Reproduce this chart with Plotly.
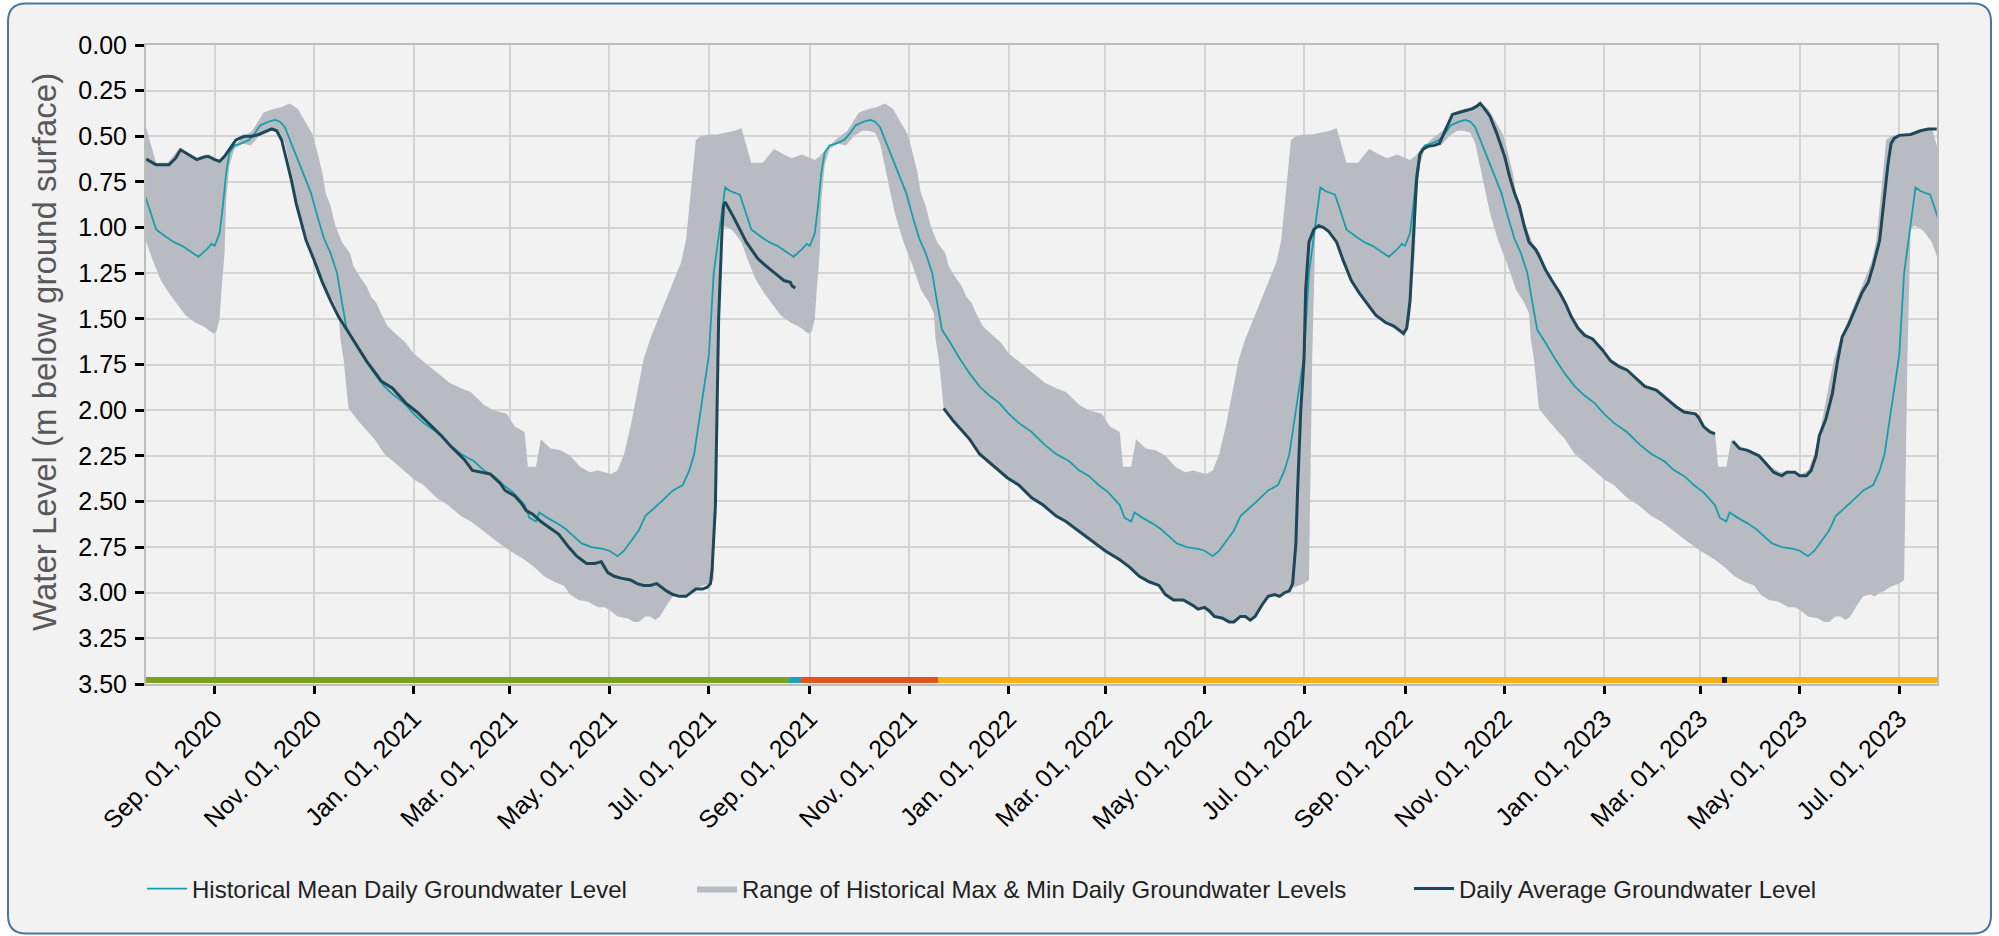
import plotly.graph_objects as go
import pandas as pd

# ---------------- data ----------------
# Historical mean daily level (annual profile, month-day -> m below ground)
mean_md = ["01-01","01-07","01-15","01-23","01-30","02-07","02-13","02-19","02-25","03-03","03-07","03-10",
           "03-13","03-17","03-19","03-24","03-30","04-04","04-09","04-14","04-20","04-27","05-01","05-06",
           "05-10","05-14","05-19","05-23","05-27","06-02","06-09","06-15","06-19","06-22","06-24","06-27",
           "07-01","07-04","07-08","07-11","07-14","07-17","07-20","07-23","07-27","08-02","08-07","08-12",
           "08-17","08-22","08-27","08-30","09-01","09-04","09-06","09-08","09-10","09-13","09-17","09-22",
           "09-25","09-29","10-04","10-08","10-11","10-14","10-18","10-22","10-26","10-30","11-03","11-07",
           "11-11","11-15","11-18","11-21","11-26","12-02","12-08","12-14","12-20","12-26"]
mean_val = [2.02,2.07,2.12,2.19,2.24,2.28,2.33,2.36,2.41,2.45,2.49,2.52,
            2.59,2.61,2.56,2.59,2.62,2.65,2.69,2.73,2.75,2.76,2.77,2.80,
            2.77,2.72,2.66,2.58,2.55,2.50,2.44,2.41,2.33,2.24,2.12,1.95,
            1.70,1.25,0.99,0.78,0.80,0.81,0.82,0.90,1.01,1.05,1.08,1.10,
            1.13,1.16,1.12,1.09,1.10,1.03,0.88,0.70,0.59,0.55,0.54,0.52,
            0.49,0.44,0.42,0.41,0.42,0.45,0.54,0.63,0.71,0.81,0.94,1.06,
            1.14,1.25,1.41,1.56,1.63,1.72,1.80,1.87,1.92,1.96]

# Historical range: shallowest level (top of band)
top_md = ["01-01","01-05","01-15","01-23","01-30","02-05","02-13","02-19","02-27","03-04","03-10","03-12",
          "03-17","03-20","03-26","04-01","04-07","04-13","04-19","04-24","04-28","05-02","05-06","05-10",
          "05-14","05-18","05-22","05-26","05-30","06-03","06-09","06-14","06-17","06-19","06-21","06-23",
          "06-26","07-01","07-06","07-12","07-17","07-21","07-27","08-03","08-10","08-16","08-21","08-27",
          "09-04","09-07","09-12","09-18","09-24","10-01","10-07","10-12","10-17","10-22","10-26","10-31",
          "11-03","11-06","11-08","11-11","11-14","11-18","11-23","11-25","11-29","12-03","12-06","12-09",
          "12-12","12-16","12-22","12-27"]
top_val = [1.69,1.72,1.79,1.85,1.88,1.90,1.97,2.00,2.02,2.09,2.12,2.31,
           2.31,2.16,2.21,2.22,2.25,2.31,2.34,2.33,2.34,2.35,2.33,2.24,
           2.09,1.91,1.72,1.61,1.52,1.43,1.30,1.19,1.07,0.88,0.70,0.52,
           0.50,0.49,0.49,0.48,0.47,0.455,0.645,0.645,0.57,0.60,0.62,0.60,
           0.63,0.61,0.56,0.51,0.47,0.37,0.35,0.34,0.32,0.35,0.41,0.49,
           0.59,0.70,0.81,0.88,0.99,1.08,1.14,1.21,1.27,1.32,1.38,1.41,
           1.47,1.54,1.59,1.63]

# Historical range: deepest level (bottom of band)
bot_md = ["01-01","01-07","01-15","01-22","01-30","02-05","02-11","02-21","03-01","03-10","03-16","03-22",
          "03-28","04-03","04-07","04-12","04-18","04-24","04-28","05-02","05-06","05-12","05-16","05-19",
          "05-23","05-26","05-29","06-01","06-05","06-09","06-13","06-16","06-19","06-22","06-25","07-01",
          "07-04","07-06","07-08","07-10","07-13","07-16","07-21","07-25","07-30","08-04","08-09","08-14",
          "08-20","08-25","08-31","09-02","09-04","09-05","09-07","09-08","09-10","09-13","09-18","09-23",
          "09-28","10-03","10-07","10-11","10-14","10-18","10-23","10-28","11-03","11-08","11-13","11-16",
          "11-17","11-19","11-21","11-22","11-28","12-04","12-08","12-14","12-22","12-31"]
bot_val = [2.38,2.41,2.48,2.52,2.58,2.61,2.65,2.72,2.77,2.82,2.86,2.91,
           2.94,2.96,3.01,3.04,3.05,3.08,3.08,3.10,3.13,3.14,3.16,3.16,
           3.13,3.13,3.15,3.13,3.07,3.02,3.01,3.02,3.00,2.99,2.97,2.95,
           2.93,1.72,1.01,0.99,1.00,1.02,1.08,1.18,1.29,1.36,1.42,1.48,
           1.52,1.54,1.58,1.57,1.50,1.36,1.14,0.85,0.66,0.57,0.54,0.55,
           0.50,0.47,0.47,0.48,0.54,0.70,0.92,1.07,1.21,1.34,1.41,1.47,
           1.61,1.72,1.91,1.99,2.06,2.12,2.16,2.24,2.30,2.37]

profile_years = [2020, 2021, 2022, 2023]

# Daily average groundwater level (None = no data)
daily_dates = [
    "2020-07-21","2020-07-24","2020-07-27","2020-08-04","2020-08-08","2020-08-11","2020-08-16","2020-08-21",
    "2020-08-25","2020-08-28","2020-09-01","2020-09-04","2020-09-07","2020-09-10","2020-09-14","2020-09-19",
    "2020-09-24","2020-09-28","2020-10-03","2020-10-06","2020-10-09","2020-10-12","2020-10-15","2020-10-18",
    "2020-10-21","2020-10-24","2020-10-27","2020-11-01","2020-11-06","2020-11-11","2020-11-16","2020-11-21",
    "2020-11-26","2020-11-30","2020-12-03","2020-12-08","2020-12-12","2020-12-19","2020-12-27","2021-01-03",
    "2021-01-10","2021-01-18","2021-01-24","2021-02-01","2021-02-06","2021-02-12","2021-02-17","2021-02-23",
    "2021-02-26","2021-03-04","2021-03-08","2021-03-11","2021-03-15","2021-03-20","2021-03-26","2021-03-31",
    "2021-04-06","2021-04-11","2021-04-17","2021-04-22","2021-04-26","2021-04-30","2021-05-04","2021-05-08",
    "2021-05-14","2021-05-18","2021-05-22","2021-05-26","2021-05-30","2021-06-05","2021-06-09","2021-06-13",
    "2021-06-17","2021-06-20","2021-06-23","2021-06-27","2021-06-30","2021-07-02","2021-07-03","2021-07-05",
    "2021-07-06","2021-07-07","2021-07-09","2021-07-10","2021-07-11","2021-07-13","2021-07-16","2021-07-20",
    "2021-07-24","2021-07-31","2021-08-05","2021-08-12","2021-08-16","2021-08-20","2021-08-21","2021-08-23",
    "2021-10-01",
    "2021-11-22","2021-11-28","2021-12-04","2021-12-08","2021-12-14","2021-12-22","2021-12-31","2022-01-07",
    "2022-01-15","2022-01-22","2022-01-30","2022-02-05","2022-02-11","2022-02-21","2022-03-01","2022-03-10",
    "2022-03-16","2022-03-22","2022-03-28","2022-04-03","2022-04-07","2022-04-12","2022-04-18","2022-04-24",
    "2022-04-27","2022-05-01","2022-05-04","2022-05-07","2022-05-12","2022-05-16","2022-05-19","2022-05-23",
    "2022-05-26","2022-05-29","2022-06-01","2022-06-05","2022-06-09","2022-06-13","2022-06-16","2022-06-19",
    "2022-06-22","2022-06-24","2022-06-26","2022-06-27","2022-06-29","2022-07-01","2022-07-02","2022-07-04",
    "2022-07-07","2022-07-10","2022-07-13","2022-07-16","2022-07-21","2022-07-25","2022-07-30","2022-08-04",
    "2022-08-09","2022-08-14","2022-08-20","2022-08-25","2022-08-28","2022-08-31","2022-09-02","2022-09-04",
    "2022-09-06","2022-09-08","2022-09-10","2022-09-12","2022-09-15","2022-09-19","2022-09-22","2022-09-24",
    "2022-09-27","2022-09-30","2022-10-04","2022-10-08","2022-10-12","2022-10-15","2022-10-17","2022-10-19",
    "2022-10-23","2022-10-27","2022-11-01","2022-11-04","2022-11-07","2022-11-10","2022-11-13","2022-11-16",
    "2022-11-20","2022-11-23","2022-11-26","2022-11-30","2022-12-05","2022-12-08","2022-12-12","2022-12-16",
    "2022-12-20","2022-12-25","2022-12-31","2023-01-05","2023-01-10","2023-01-15","2023-01-20","2023-01-26",
    "2023-02-02","2023-02-06","2023-02-10","2023-02-14","2023-02-19","2023-02-26","2023-02-28","2023-03-03",
    "2023-03-07","2023-03-10",
    "2023-03-15",
    "2023-03-21","2023-03-25","2023-03-30","2023-04-06","2023-04-10","2023-04-15","2023-04-20","2023-04-23",
    "2023-04-28","2023-05-01","2023-05-05","2023-05-08","2023-05-11","2023-05-13","2023-05-17","2023-05-21",
    "2023-05-24","2023-05-27","2023-05-31","2023-06-05","2023-06-08","2023-06-12","2023-06-15","2023-06-19",
    "2023-06-22","2023-06-24","2023-06-26","2023-06-28","2023-07-01","2023-07-08","2023-07-14","2023-07-19",
    "2023-07-24"]
daily_val = [
    0.625,0.64,0.656,0.656,0.62,0.574,0.60,0.628,
    0.615,0.61,0.628,0.637,0.61,0.57,0.52,0.50,
    0.50,0.49,0.47,0.46,0.47,0.52,0.63,0.74,
    0.87,0.97,1.07,1.18,1.30,1.40,1.49,1.56,
    1.63,1.69,1.73,1.79,1.84,1.88,1.96,2.01,
    2.07,2.14,2.20,2.27,2.33,2.34,2.35,2.40,
    2.44,2.47,2.51,2.55,2.57,2.61,2.65,2.68,
    2.75,2.80,2.84,2.84,2.83,2.89,2.91,2.92,
    2.93,2.95,2.96,2.96,2.95,2.99,3.01,3.02,
    3.02,3.00,2.98,2.98,2.97,2.95,2.87,2.53,
    1.98,1.50,1.03,0.88,0.86,0.89,0.94,1.01,
    1.08,1.17,1.21,1.26,1.29,1.30,1.32,1.33,
    None,
    1.99,2.06,2.12,2.16,2.24,2.30,2.37,2.41,
    2.48,2.52,2.58,2.61,2.65,2.72,2.77,2.82,
    2.86,2.91,2.94,2.96,3.01,3.04,3.04,3.07,
    3.09,3.08,3.10,3.13,3.14,3.16,3.16,3.13,
    3.13,3.15,3.13,3.07,3.02,3.01,3.02,3.00,
    2.99,2.95,2.73,2.45,2.00,1.72,1.34,1.08,
    1.01,0.99,1.00,1.02,1.08,1.18,1.29,1.36,
    1.42,1.48,1.52,1.54,1.56,1.58,1.55,1.40,
    1.07,0.74,0.60,0.57,0.555,0.55,0.54,0.50,
    0.43,0.38,0.37,0.36,0.35,0.335,0.32,0.34,
    0.39,0.48,0.61,0.72,0.81,0.88,0.99,1.08,
    1.12,1.17,1.23,1.29,1.36,1.41,1.49,1.55,
    1.59,1.61,1.67,1.73,1.76,1.78,1.82,1.87,
    1.89,1.92,1.95,1.98,2.01,2.02,2.04,2.09,
    2.12,2.13,
    None,
    2.17,2.21,2.22,2.25,2.29,2.34,2.36,2.34,
    2.34,2.36,2.36,2.33,2.25,2.14,2.05,1.91,
    1.74,1.60,1.53,1.42,1.36,1.30,1.21,1.07,
    0.83,0.66,0.54,0.51,0.495,0.49,0.47,0.46,
    0.46]

# Data-grade strip along the bottom (runs of days)
grade_start = ["2020-07-21", "2021-08-20", "2021-08-27", "2021-11-19", "2023-03-15", "2023-03-18"]
grade_end = ["2021-08-19", "2021-08-26", "2021-11-18", "2023-03-14", "2023-03-17", "2023-07-24"]
grade_color = ["#7ca31d", "#1fa3bd", "#e2541f", "#f3b116", "#151515", "#f3b116"]

y_ticks = [0.00, 0.25, 0.50, 0.75, 1.00, 1.25, 1.50, 1.75, 2.00, 2.25, 2.50, 2.75, 3.00, 3.25, 3.50]
y_title = "Water Level (m below ground surface)"

# ---------------- build ----------------
def expand(md_list, vals):
    xs, ys = [], []
    for yr in profile_years:
        for md, v in zip(md_list, vals):
            xs.append(f"{yr}-{md}")
            ys.append(v)
    return xs, ys

mean_x, mean_y = expand(mean_md, mean_val)
top_x, top_y = expand(top_md, top_val)
bot_x, bot_y = expand(bot_md, bot_val)

strip_x, strip_c = [], []
for s, e, c in zip(grade_start, grade_end, grade_color):
    for d in pd.date_range(s, e, freq="D"):
        strip_x.append(d.strftime("%Y-%m-%d"))
        strip_c.append(c)

FONT = "Liberation Sans, Arial, Helvetica, sans-serif"
C_MEAN = "#189eab"
C_DAILY = "#1e4757"
C_BAND = "#b8bcc2"

# plot area geometry (px)
ML, MR, MT, MB = 146, 62, 45, 252
W, H = 1999, 936
PW, PH = W - ML - MR, H - MT - MB

def px(xp):
    return (xp - ML) / PW

def py(yp):
    return (H - MB - yp) / PH

fig = go.Figure()

fig.add_trace(go.Scatter(
    x=top_x + bot_x[::-1], y=top_y + bot_y[::-1],
    fill="toself", fillcolor=C_BAND, line=dict(width=0, color=C_BAND),
    mode="lines", name="Range of Historical Max & Min Daily Groundwater Levels",
    legend="legend2", hoverinfo="skip"))

fig.add_trace(go.Scatter(
    x=mean_x, y=mean_y, mode="lines", line=dict(color=C_MEAN, width=1.8),
    name="Historical Mean Daily Groundwater Level", legend="legend"))

fig.add_trace(go.Scatter(
    x=daily_dates, y=daily_val, mode="lines", connectgaps=False,
    line=dict(color=C_DAILY, width=3),
    name="Daily Average Groundwater Level", legend="legend3"))

fig.add_trace(go.Bar(
    x=strip_x, y=[0.032] * len(strip_x), base=3.46,
    marker=dict(color=strip_c, line=dict(width=0)),
    width=86400000 * 0.8, showlegend=False, hoverinfo="skip"))

x0, x1, y0, y1, r = 8, 1991, 3.5, 933.5, 18
path = (f"M {px(x0 + r)} {py(y0)} L {px(x1 - r)} {py(y0)} Q {px(x1)} {py(y0)} {px(x1)} {py(y0 + r)} "
        f"L {px(x1)} {py(y1 - r)} Q {px(x1)} {py(y1)} {px(x1 - r)} {py(y1)} "
        f"L {px(x0 + r)} {py(y1)} Q {px(x0)} {py(y1)} {px(x0)} {py(y1 - r)} "
        f"L {px(x0)} {py(y0 + r)} Q {px(x0)} {py(y0)} {px(x0 + r)} {py(y0)} Z")

fig.add_shape(type="path", path=path, xref="paper", yref="paper",
              fillcolor="#f2f2f2", line=dict(color="#4a76a2", width=2), layer="below")

fig.add_annotation(text=y_title, xref="paper", yref="paper", x=px(44), y=py(352),
                   textangle=-90, showarrow=False, xanchor="center", yanchor="middle",
                   font=dict(size=33, color="#595959", family=FONT))

leg_common = dict(orientation="h", yanchor="middle", xanchor="left", y=py(889),
                  font=dict(size=24, color="#222", family=FONT), bgcolor="rgba(0,0,0,0)",
                  itemwidth=40)

fig.update_layout(
    width=W, height=H,
    margin=dict(l=ML, r=MR, t=MT, b=MB, pad=0),
    paper_bgcolor="white", plot_bgcolor="rgba(0,0,0,0)",
    font=dict(family=FONT, color="#000"),
    showlegend=True,
    legend=dict(x=px(142), **leg_common),
    legend2=dict(x=px(692), **leg_common),
    legend3=dict(x=px(1409), **leg_common),
    bargap=0,
)

fig.update_xaxes(
    type="date", range=["2020-07-20 20:00", "2023-07-24 04:00"],
    tick0="2020-09-01", dtick="M2", tickformat="%b. %d, %Y", tickangle=-45,
    ticks="outside", ticklen=8, tickwidth=2.5, tickcolor="#000",
    tickfont=dict(size=25, color="#000", family=FONT),
    showgrid=True, gridcolor="#d4d4d4", gridwidth=2,
    showline=True, linecolor="#bdbdbd", linewidth=2, mirror=True,
    zeroline=False,
)

fig.update_yaxes(
    range=[3.5, 0], tickvals=y_ticks, tickformat=".2f",
    ticks="outside", ticklen=9, tickwidth=2.5, tickcolor="#000",
    tickfont=dict(size=25, color="#000", family=FONT), ticklabelstandoff=3,
    showgrid=True, gridcolor="#d4d4d4", gridwidth=2,
    showline=True, linecolor="#bdbdbd", linewidth=2, mirror=True,
    zeroline=False,
)

fig.write_html("out.html", config={"displayModeBar": False},
               post_script="document.body.style.margin='0';document.body.style.overflow='hidden';")
